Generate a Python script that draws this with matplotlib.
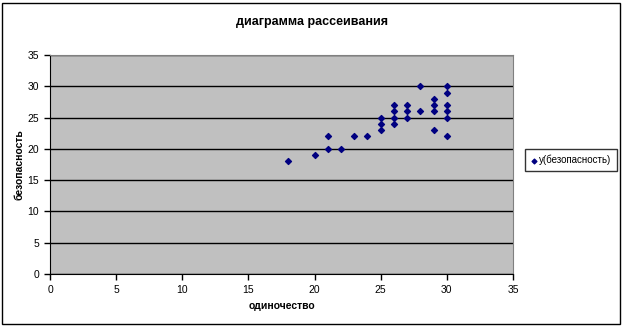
import numpy as np
import matplotlib.pyplot as plt
from matplotlib.patches import Rectangle

plt.rcParams['font.family'] = ['Liberation Sans', 'DejaVu Sans']

# одиночество (x) и безопасность (y)
x = [18, 20, 21, 21, 22, 23, 24, 25, 25, 25, 26, 26, 26, 26,
     27, 27, 27, 28, 28, 29, 29, 29, 29, 30, 30, 30, 30, 30, 30]
y = [18, 19, 22, 20, 20, 22, 22, 23, 24, 25, 24, 25, 26, 27,
     25, 26, 27, 26, 30, 23, 26, 27, 28, 22, 25, 26, 27, 29, 30]

fig = plt.figure(figsize=(6.23, 3.27), dpi=100)
fig.patches.append(Rectangle((2/623, 3/327), 618/623, 321/327, transform=fig.transFigure,
                             fill=False, edgecolor='black', linewidth=1))

ax = fig.add_axes([50/623, 53/327, 463/623, 219/327])
ax.set_facecolor('#C0C0C0')
ax.scatter(x, y, marker='D', s=9, color='#000080', label='y(безопасность)', zorder=3)

ax.set_xlim(0, 35)
ax.set_ylim(0, 35)
ax.set_xticks(np.arange(0, 36, 5))
ax.set_yticks(np.arange(0, 36, 5))
ax.yaxis.grid(True, color='black', linewidth=1)
ax.set_axisbelow(True)
ax.tick_params(labelsize=7.5, length=4, width=1, direction='out', pad=4)
for s in ['top', 'right']:
    ax.spines[s].set_color('#808080')
for s in ['left', 'bottom']:
    ax.spines[s].set_color('black')

ax.set_xlabel('одиночество', fontsize=7.5, fontweight='bold', labelpad=4)
ax.set_ylabel('безопасность', fontsize=7.5, fontweight='bold', labelpad=2)
fig.text(312/623, 1 - 22/327, 'диаграмма рассеивания', ha='center', va='center',
         fontsize=9, fontweight='bold')

leg = fig.legend(loc='center left', bbox_to_anchor=(525/623, 1 - 160/327), fontsize=7,
                 frameon=True, fancybox=False, edgecolor='black', handletextpad=0.2,
                 handlelength=0.6, borderpad=0.6, borderaxespad=0, markerscale=0.8)
leg.get_frame().set_linewidth(1)

plt.savefig('out.png', dpi=100)
